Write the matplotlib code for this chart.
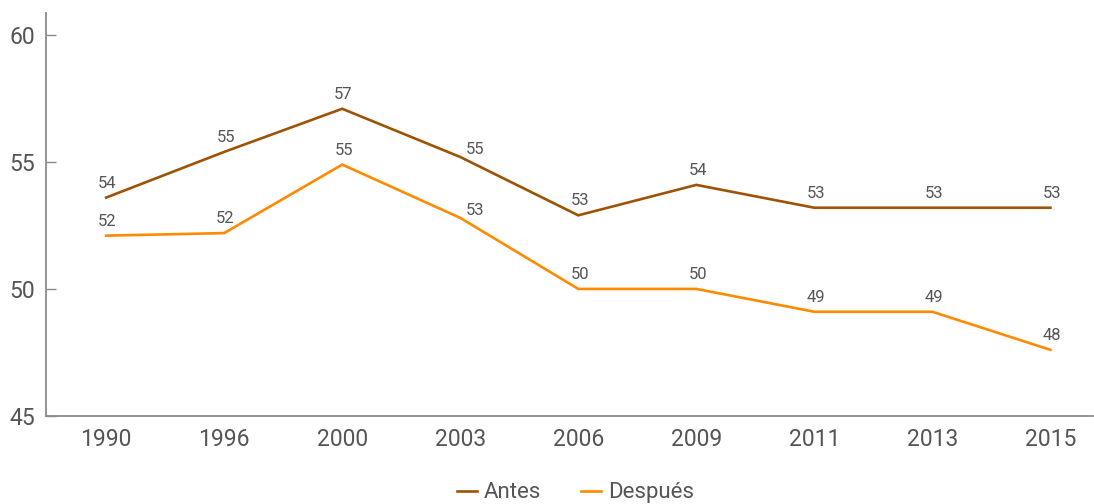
import matplotlib
matplotlib.use("Agg")
import matplotlib.pyplot as plt

# data
years = ["1990", "1996", "2000", "2003", "2006", "2009", "2011", "2013", "2015"]
antes = [53.6, 55.4, 57.1, 55.2, 52.9, 54.1, 53.2, 53.2, 53.2]
despues = [52.1, 52.2, 54.9, 52.8, 50.0, 50.0, 49.1, 49.1, 47.6]
series_names = ["Antes", "Después"]
y_ticks = [45, 50, 55, 60]

plt.rcParams['font.family'] = ['Roboto', 'DejaVu Sans']

col_antes = "#9E5304"
col_despues = "#FF8A00"
txt_col = "#555555"
axis_col = "#8a8a8a"

fig = plt.figure(figsize=(10.94, 5.04), dpi=100)
ax = fig.add_axes([0.042, 0.175, 0.957, 0.799])

x = list(range(len(years)))
ax.plot(x, antes, color=col_antes, lw=1.9, label=series_names[0], solid_joinstyle='miter')
ax.plot(x, despues, color=col_despues, lw=1.9, label=series_names[1], solid_joinstyle='miter')

# value labels above each point (2003 ones sit a bit to the right)
for vals in (antes, despues):
    for i, v in enumerate(vals):
        dx, dy = (11, 0) if i == 3 else (1, 5)
        ax.annotate(f"{v:.0f}", (i, v), xytext=(dx, dy), textcoords="offset points",
                    ha="center", va="bottom", fontsize=12, color=txt_col)

ax.set_xlim(-0.51, 8.36)
ax.set_ylim(45, 60.87)
ax.set_xticks(x)
ax.set_xticklabels(years)
ax.set_yticks(y_ticks)

for s in ("top", "right"):
    ax.spines[s].set_visible(False)
for s in ("left", "bottom"):
    ax.spines[s].set_color(axis_col)
    ax.spines[s].set_linewidth(1.3)

ax.tick_params(axis="y", direction="in", length=7.5, width=1, color=axis_col,
               labelsize=16.5, labelcolor=txt_col, pad=8)
ax.tick_params(axis="x", length=0, labelsize=16.5, labelcolor=txt_col, pad=9)

fig.legend(loc="center", bbox_to_anchor=(0.526, 0.022), ncol=2, frameon=False,
           fontsize=16, handlelength=0.9, handletextpad=0.3, columnspacing=1.8,
           labelcolor=txt_col)

fig.savefig("out.png", dpi=100)
